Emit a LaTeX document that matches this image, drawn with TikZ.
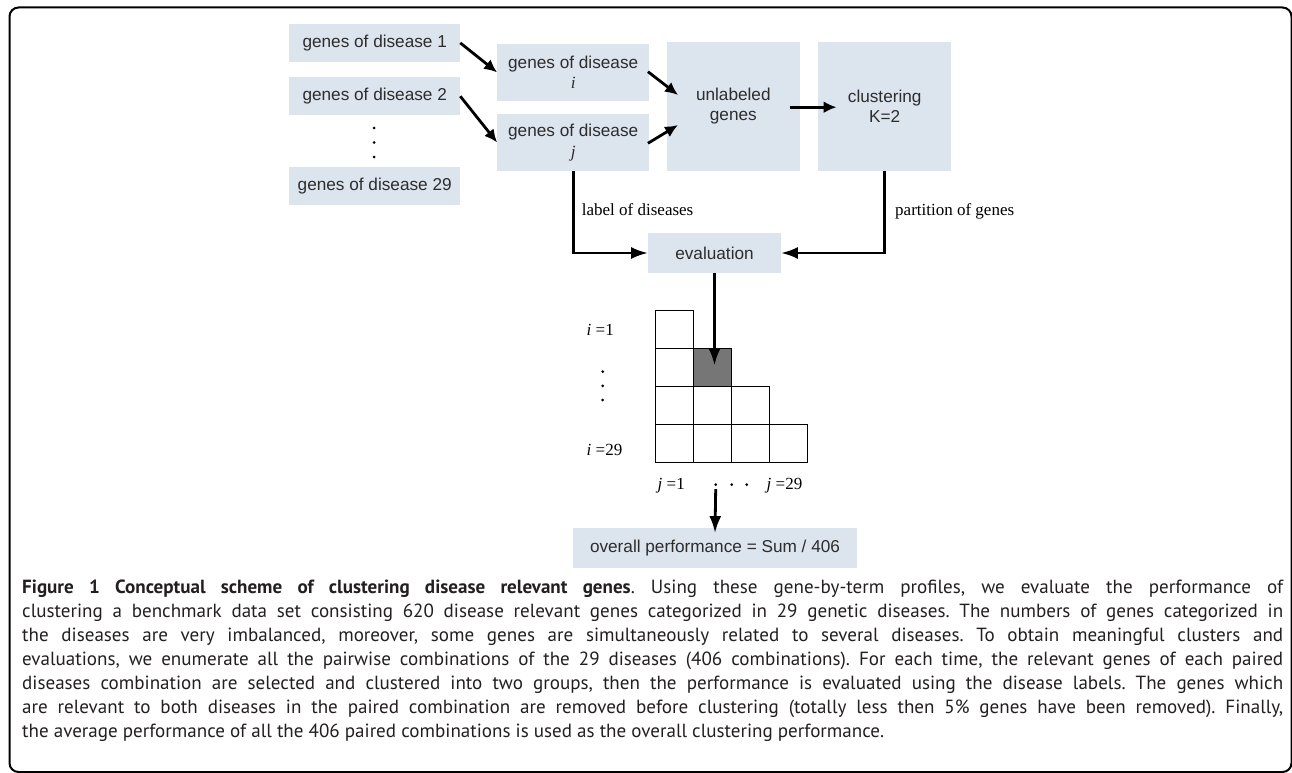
\documentclass[tikz,border=0pt]{standalone}
\usepackage{fontspec}
\setmainfont{Liberation Serif}
\setsansfont{Liberation Sans}
\newfontfamily\capfont{PT Sans}
\usetikzlibrary{arrows.meta,calc}
\definecolor{boxfill}{RGB}{220,228,238}
\definecolor{boxtext}{RGB}{45,45,45}
\definecolor{cellgray}{RGB}{118,118,118}
\definecolor{captext}{RGB}{35,31,32}
\newlength\capw
\tikzset{
  gbox/.style={fill=boxfill, text=boxtext, inner sep=0pt, align=center,
    font=\sffamily\fontsize{17.2}{20.6}\selectfont},
  arrA/.style={line width=2.8pt, -{Latex[length=13pt,width=12pt]}},
  arrB/.style={line width=2.8pt, -{Latex[length=17pt,width=12pt]}},
  cell/.style={draw, line width=1.5pt, minimum size=37.9pt, inner sep=0pt},
  serlab/.style={inner sep=0pt, anchor=base west, font=\rmfamily\fontsize{17}{20}\selectfont},
  dot/.style={fill=black},
  capline/.style={inner sep=0pt, anchor=base west, text=captext},
}
\frenchspacing
\begin{document}
\frenchspacing
\settowidth\capw{\capfont\fontsize{10pt}{12pt}\selectfont the average performance of all the 406 paired combinations is used as the overall clustering performance.}
\pgfmathsetmacro\capsz{10*862/\capw}
\begin{tikzpicture}[x=1pt,y=-1pt]
\useasboundingbox (0,0) rectangle (1292,773);
% frame
\draw[line width=2pt, rounded corners=9pt] (9.5,7.5) rectangle (1291.5,772);

% left boxes
\node[gbox, minimum width=170.7pt, minimum height=37.7pt] (d1) at (374.7,42.9) {genes of disease 1};
\node[gbox, minimum width=170.7pt, minimum height=37.7pt] (d2) at (374.7,96.2) {genes of disease 2};
\node[gbox, minimum width=170.7pt, minimum height=37.7pt] (d29) at (374.7,186.2) {genes of disease 29};
\fill[dot] (374,128) circle (1.5pt) (374,142.5) circle (1.5pt) (374,157) circle (1.5pt);

% i, j boxes
\node[gbox, minimum width=151.7pt, minimum height=56.6pt] (di) at (573.2,72.4) {genes of disease\\{\rmfamily\itshape i}};
\node[gbox, minimum width=151.7pt, minimum height=56.6pt] (dj) at (573.2,142.5) {genes of disease\\{\rmfamily\itshape j}};

% unlabeled and clustering
\node[gbox, minimum width=133.3pt, minimum height=129pt] (unl) at (733.3,106.2) {unlabeled\\genes};
\node[gbox, minimum width=132.7pt, minimum height=129pt] (clu) at (884.7,106.2) {clustering\\K=2};

% evaluation and overall
\node[gbox, minimum width=132.4pt, minimum height=39.4pt] (eval) at (714.5,253) {evaluation};
\node[gbox, minimum width=283.4pt, minimum height=39.4pt] (overall) at (715,548) {overall performance = Sum / 406};

% top arrows
\draw[arrA] (d1.east) -- (di.west);
\draw[arrA] (d2.east) -- (dj.west);
\draw[arrA] ($(di.east)+(-1.3,-0.7)$) -- ($(unl.west)+(11.6,-11.2)$);
\draw[arrA] ($(dj.east)+(-1.3,0.8)$) -- ($(unl.west)+(11.6,18.8)$);
\draw[arrA] ($(unl.east)+(-10,1)$) -- ($(clu.west)+(18.4,1)$);

% to evaluation
\draw[arrB] (dj.south) |- (eval.west);
\draw[arrB] (clu.south) |- (eval.east);
\node[serlab] (lab1) at (581.7,215) {label of diseases};
\node[serlab] (lab2) at (895,215) {partition of genes};

% grid
\node[cell] (c11) at (674.65,329.65) {};
\node[cell] (c21) at (674.65,367.55) {};
\node[cell, fill=cellgray] (c22) at (712.55,367.55) {};
\node[cell] (c31) at (674.65,405.45) {};
\node[cell] (c32) at (712.55,405.45) {};
\node[cell] (c33) at (750.45,405.45) {};
\node[cell] (c41) at (674.65,443.35) {};
\node[cell] (c42) at (712.55,443.35) {};
\node[cell] (c43) at (750.45,443.35) {};
\node[cell] (c44) at (788.35,443.35) {};

\draw[arrB] (eval.south) -- ($(eval.south |- c22.center)+(0,-2)$);

% grid labels
\node[serlab] (irow1) at (586.5,335.5) {\itshape i\upshape\ =1};
\node[serlab] (irow29) at (586.5,455.5) {\itshape i\upshape\ =29};
\fill[dot] (602.7,371.7) circle (1.5pt) (602.7,385.8) circle (1.5pt) (602.7,400) circle (1.5pt);
\node[serlab] (jcol1) at (657.5,489.8) {\itshape j\upshape\ =1};
\node[serlab] (jcol29) at (766.5,489.8) {\itshape j\upshape\ =29};
\fill[dot] (731.7,484.7) circle (1.5pt) (746.7,484.7) circle (1.5pt);
\coordinate (dotmid) at (715.7,484.7);
\fill[dot] (dotmid) circle (1.5pt);
\draw[arrB] ($(dotmid)+(0,4.5)$) -- ($(overall.north)+(0,5)$);

% caption
\tikzset{capfontstyle/.style={font=\capfont\fontsize{\capsz pt}{24pt}\selectfont}}
\node[capline, capfontstyle] (cap1) at (22,593) {\makebox[1261pt][s]{\textbf{Figure 1 Conceptual scheme of clustering disease relevant genes}. Using these gene-by-term profiles, we evaluate the performance of}};
\node[capline, capfontstyle] (cap2) at (22,617) {\makebox[1261pt][s]{clustering a benchmark data set consisting 620 disease relevant genes categorized in 29 genetic diseases. The numbers of genes categorized in}};
\node[capline, capfontstyle] (cap3) at (22,641) {\makebox[1261pt][s]{the diseases are very imbalanced, moreover, some genes are simultaneously related to several diseases. To obtain meaningful clusters and}};
\node[capline, capfontstyle] (cap4) at (22,665) {\makebox[1261pt][s]{evaluations, we enumerate all the pairwise combinations of the 29 diseases (406 combinations). For each time, the relevant genes of each paired}};
\node[capline, capfontstyle] (cap5) at (22,689) {\makebox[1261pt][s]{diseases combination are selected and clustered into two groups, then the performance is evaluated using the disease labels. The genes which}};
\node[capline, capfontstyle] (cap6) at (22,713) {\makebox[1261pt][s]{are relevant to both diseases in the paired combination are removed before clustering (totally less then 5\% genes have been removed). Finally,}};
\node[capline, capfontstyle] (cap7) at (22,737) {the average performance of all the 406 paired combinations is used as the overall clustering performance.};
\end{tikzpicture}
\end{document}
